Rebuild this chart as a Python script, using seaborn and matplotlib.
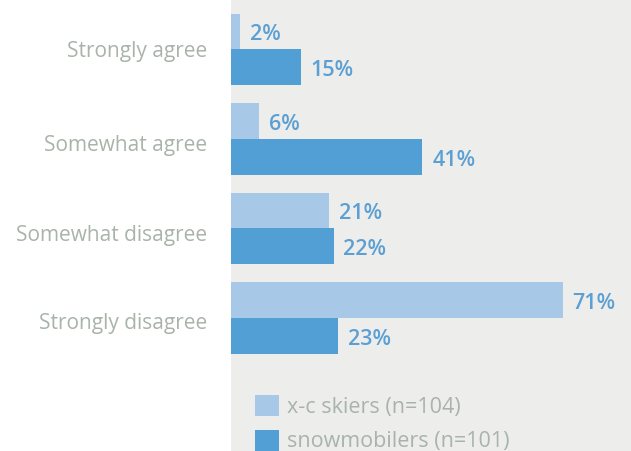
import matplotlib
matplotlib.use("Agg")
import matplotlib.pyplot as plt
import matplotlib.transforms as mtransforms
import seaborn as sns
import pandas as pd

categories = ["Strongly agree", "Somewhat agree", "Somewhat disagree", "Strongly disagree"]
series_names = ["x-c skiers (n=104)", "snowmobilers (n=101)"]
xc_skiers = [2, 6, 21, 71]
snowmobilers = [15, 41, 22, 23]

colors = ["#a7c8e6", "#529fd5"]
label_color = "#5b9fd3"
text_gray = "#a9b3aa"
panel_bg = "#edeeec"

df = pd.DataFrame({
    "response": categories * 2,
    "group": [series_names[0]] * 4 + [series_names[1]] * 4,
    "pct": xc_skiers + snowmobilers,
})

sns.set_theme(style="white")
plt.rcParams["font.family"] = ["Open Sans", "DejaVu Sans"]

fig = plt.figure(figsize=(6.31, 4.51), dpi=100)
ax = fig.add_axes([231 / 631, 0, 400 / 631, 1])
ax.set_facecolor(panel_bg)

sns.barplot(data=df, y="response", x="pct", hue="group", order=categories,
            hue_order=series_names, palette=colors, orient="h", width=0.8,
            saturation=1, linewidth=0, edgecolor="none", ax=ax, legend=False)

# value labels, nudged slightly below the bar centre
for container in ax.containers:
    texts = ax.bar_label(container, labels=[f"{v:.0f}%" for v in container.datavalues],
                         padding=7, color=label_color, fontsize=15.5,
                         fontweight="semibold")
    for t in texts:
        ox, oy = t.xyann
        t.xyann = (ox, oy - 2.3)

ax.set_xlim(0, 400 / 4.67)
ax.set_ylim(4.486, -0.553)
ax.set_xlabel("")
ax.set_ylabel("")
ax.set_xticks([])
ax.tick_params(axis="y", length=0, pad=17, labelsize=15, labelcolor=text_gray)
for s in ax.spines.values():
    s.set_visible(False)

for lbl, dy in zip(ax.get_yticklabels(), [0, 4, 5, 2.5]):
    lbl.set_transform(lbl.get_transform()
                      + mtransforms.ScaledTranslation(0, -dy / 100, fig.dpi_scale_trans))

handles = [plt.Rectangle((0, 0), 1, 1, color=c, linewidth=0) for c in colors]
fig.legend(handles, series_names, loc="upper left",
           bbox_to_anchor=(255 / 631, 1 - 395 / 451), frameon=False,
           fontsize=15.5, labelcolor=text_gray, handlelength=1.12, handleheight=1.12,
           handletextpad=0.38, labelspacing=0.55, borderpad=0, borderaxespad=0)

fig.savefig("out.png", dpi=100)
